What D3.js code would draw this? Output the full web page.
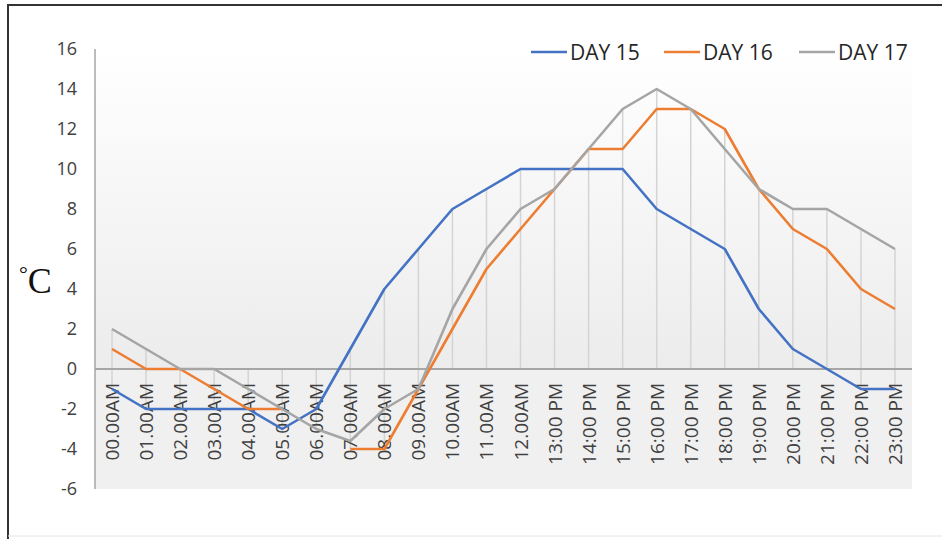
<html lang="en">
<head>
  <meta http-equiv="Content-Type" content="text/html; charset=UTF-8">
  <title>Temperature</title>
  <script type="text/javascript" src="https://cdn.jsdelivr.net/npm/d3@7/dist/d3.min.js"></script>
  <style type="text/css">
    body { margin: 0; background: #fff; }
  </style>
</head>
<body>
  <script type="text/javascript">
    // hours of the day
    var hours = ["00.00AM", "01.00AM", "02.00AM", "03.00AM", "04.00AM", "05.00AM",
      "06.00AM", "07.00AM", "08.00AM", "09.00AM", "10.00AM", "11.00AM", "12.00AM",
      "13:00 PM", "14:00 PM", "15:00 PM", "16:00 PM", "17:00 PM", "18:00 PM",
      "19:00 PM", "20:00 PM", "21:00 PM", "22:00 PM", "23:00 PM"];

    var day15 = [-1, -2, -2, -2, -2, -3, -2, 1, 4, 6, 8, 9, 10, 10, 10, 10, 8, 7, 6, 3, 1, 0, -1, -1];
    var day16 = [1, 0, 0, -1, -2, -2, null, -4, -4, -1, 2, 5, 7, 9, 11, 11, 13, 13, 12, 9, 7, 6, 4, 3];
    var day17 = [2, 1, 0, 0, -1, -2, -3, -3.6, -2, -1, 3, 6, 8, 9, 11, 13, 14, 13, 11, 9, 8, 8, 7, 6];

    var seriesNames = ["DAY 15", "DAY 16", "DAY 17"];
    var seriesColors = ["#4472C4", "#ED7D31", "#A5A5A5"];
    var yTicks = [-6, -4, -2, 0, 2, 4, 6, 8, 10, 12, 14, 16];

    var series = [day15, day16, day17];
    var sans = "'Open Sans', 'Noto Sans', sans-serif";

    var svg = d3.select("body").append("svg").attr("width", 942).attr("height", 539);

    // frame
    svg.append("line").attr("x1", 8).attr("y1", 5).attr("x2", 8).attr("y2", 539)
      .attr("stroke", "#333").attr("stroke-width", 2);
    svg.append("line").attr("x1", 7).attr("y1", 5).attr("x2", 942).attr("y2", 5)
      .attr("stroke", "#333").attr("stroke-width", 2);
    svg.append("line").attr("x1", 8).attr("y1", 536).attr("x2", 942).attr("y2", 536)
      .attr("stroke", "#e6e6e6").attr("stroke-width", 1);

    var x = d3.scalePoint().domain(hours).range([95, 912]).padding(0.5);
    var y = d3.scaleLinear().domain([-6, 16]).range([489, 49]);

    // plot background
    var grad = svg.append("defs").append("linearGradient")
      .attr("id", "bg").attr("x1", 0).attr("y1", 0).attr("x2", 0).attr("y2", 1);
    grad.append("stop").attr("offset", "0%").attr("stop-color", "#ffffff");
    grad.append("stop").attr("offset", "100%").attr("stop-color", "#ececec");

    svg.append("rect").attr("x", 95).attr("y", y(16))
      .attr("width", 912 - 95).attr("height", y(0) - y(16))
      .attr("fill", "url(#bg)");
    svg.append("rect").attr("x", 95).attr("y", y(0))
      .attr("width", 912 - 95).attr("height", y(-6) - y(0))
      .attr("fill", "#f0f0f0");

    // drop lines
    svg.selectAll(".drop").data(hours).enter().append("line")
      .attr("class", "drop")
      .attr("x1", function(d) { return x(d); })
      .attr("x2", function(d) { return x(d); })
      .attr("y1", function(d, i) {
        var m = d3.max(series, function(s) { return s[i]; });
        return y(Math.max(m, 0));
      })
      .attr("y2", function(d, i) {
        var m = d3.min(series, function(s) { return s[i]; });
        return y(Math.min(m, 0));
      })
      .attr("stroke", "#d4d4d4").attr("stroke-width", 1.5);

    // axes
    svg.append("line").attr("x1", 95).attr("x2", 95).attr("y1", y(16)).attr("y2", y(-6))
      .attr("stroke", "#a6a6a6").attr("stroke-width", 1.5);
    svg.append("line").attr("x1", 95).attr("x2", 912).attr("y1", y(0)).attr("y2", y(0))
      .attr("stroke", "#a6a6a6").attr("stroke-width", 2);

    svg.selectAll(".ytick").data(yTicks).enter().append("text")
      .attr("class", "ytick")
      .attr("x", 77)
      .attr("y", function(d) { return y(d); })
      .attr("dy", "0.36em")
      .attr("text-anchor", "end")
      .style("font-family", sans)
      .attr("font-size", 18)
      .attr("fill", "#404040")
      .text(function(d) { return d; });

    // lines
    var line = d3.line()
      .defined(function(d) { return d != null; })
      .x(function(d, i) { return x(hours[i]); })
      .y(function(d) { return y(d); });

    // x labels drawn under the lines
    svg.selectAll(".xlab").data(hours).enter().append("text")
      .attr("class", "xlab")
      .attr("transform", function(d) { return "translate(" + (x(d) + 7) + "," + 383 + ") rotate(-90)"; })
      .attr("text-anchor", "end")
      .style("font-family", sans)
      .attr("font-size", 19)
      .attr("fill", "#404040")
      .text(function(d) { return d; });

    for (var k = 0; k < series.length; k++) {
      svg.append("path")
        .attr("d", line(series[k]))
        .attr("stroke", seriesColors[k])
        .attr("stroke-width", 2.6)
        .attr("stroke-linejoin", "round")
        .attr("fill", "none");
    }

    // legend
    var legX = [531, 664, 799];
    var legend = svg.selectAll(".leg").data(seriesNames).enter().append("g")
      .attr("class", "leg")
      .attr("transform", function(d, i) { return "translate(" + legX[i] + ",52)"; });
    legend.append("line").attr("x1", 0).attr("x2", 36).attr("y1", 0).attr("y2", 0)
      .attr("stroke", function(d, i) { return seriesColors[i]; })
      .attr("stroke-width", 2.6);
    legend.append("text").attr("x", 39).attr("y", 0).attr("dy", "0.36em")
      .style("font-family", sans)
      .attr("font-size", 21)
      .attr("fill", "#262626")
      .text(function(d) { return d; });

    // unit label
    var unit = svg.append("text")
      .attr("x", 19).attr("y", 293)
      .style("font-family", "'Liberation Serif', 'DejaVu Serif', serif")
      .attr("font-size", 36)
      .attr("fill", "#111");
    unit.append("tspan").attr("font-size", 22).attr("dy", -12).text("°");
    unit.append("tspan").attr("dy", 12).text("C");
  </script>
</body>
</html>
